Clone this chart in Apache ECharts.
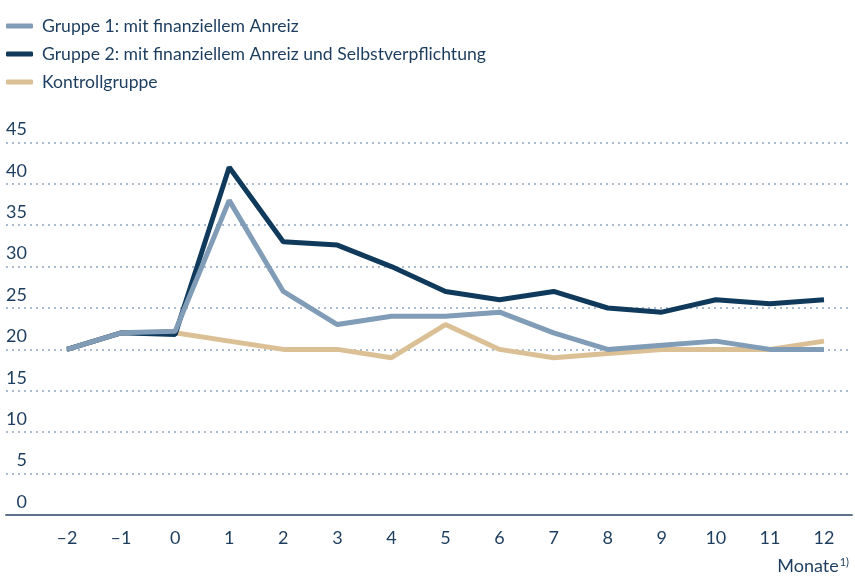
<!DOCTYPE html>
<html>
<head>
<meta charset="utf-8">
<script src="https://cdn.jsdelivr.net/npm/echarts@6/dist/echarts.min.js"></script>
<style>
  html, body { margin: 0; padding: 0; background: #fff; }
  #chart { width: 855px; height: 576px; }
</style>
</head>
<body>
<div id="chart"></div>
<script>
// Daten
var months = [-2, -1, 0, 1, 2, 3, 4, 5, 6, 7, 8, 9, 10, 11, 12];
var gruppe1 = [20, 22, 22.2, 38, 27, 23, 24, 24, 24.5, 22, 20, 20.5, 21, 20, 20];
var gruppe2 = [20, 22, 21.8, 42, 33, 32.6, 30, 27, 26, 27, 25, 24.5, 26, 25.5, 26];
var kontrolle = [20, 22, 22, 21, 20, 20, 19, 23, 20, 19, 19.5, 20, 20, 20, 21];
var seriesNames = ['Gruppe 1: mit finanziellem Anreiz',
                   'Gruppe 2: mit finanziellem Anreiz und Selbstverpflichtung',
                   'Kontrollgruppe'];

var textColor = '#1c3d5e';
var font = 'Lato';

function pairs(values) {
    return months.map(function (m, i) { return [m, values[i]]; });
}

var myChart = echarts.init(document.getElementById('chart'));

option = {
    animation: false,
    textStyle: { fontFamily: font },
    legend: {
        orient: 'vertical',
        left: 1,
        top: 10,
        itemGap: 6,
        itemWidth: 27,
        itemHeight: 5,
        icon: 'roundRect',
        data: seriesNames,
        textStyle: { color: textColor, fontSize: 17.6, fontFamily: font, lineHeight: 22, padding: [0, 0, 0, 4] }
    },
    grid: { left: 6, right: 3, top: 142.4, bottom: 61 },
    xAxis: {
        type: 'value',
        min: -3.128,
        max: 12.518,
        axisLine: { show: true, lineStyle: { color: '#5d7389', width: 2 } },
        axisTick: { show: false },
        splitLine: { show: false },
        axisLabel: {
            customValues: months,
            color: textColor,
            fontSize: 18,
            fontFamily: font,
            margin: 14,
            formatter: function (v) { return v < 0 ? '\u2013' + Math.abs(v) : String(v); }
        }
    },
    yAxis: {
        type: 'value',
        min: 0,
        max: 45,
        interval: 5,
        axisLine: { show: false },
        axisTick: { show: false },
        splitLine: { lineStyle: { color: '#8fa6bd', type: [2, 4], width: 1.5 } },
        axisLabel: {
            color: textColor,
            fontSize: 18,
            fontFamily: font,
            margin: -21,
            align: 'right',
            verticalAlign: 'bottom',
            lineHeight: 18,
            padding: [0, 0, 4, 0]
        }
    },
    graphic: [{
        type: 'text',
        right: 6,
        top: 557,
        style: {
            text: 'Monate{sup|1)}',
            fill: textColor,
            fontSize: 18,
            fontFamily: font,
            rich: { sup: { fontSize: 11, fontFamily: font, fill: textColor, verticalAlign: 'top', padding: [0, 0, 8, 1] } }
        }
    }],
    series: [
        {
            name: seriesNames[2], type: 'line', data: pairs(kontrolle), showSymbol: false, z: 2,
            itemStyle: { color: '#dbc096' }, lineStyle: { color: '#dbc096', width: 5 }
        },
        {
            name: seriesNames[1], type: 'line', data: pairs(gruppe2), showSymbol: false, z: 3,
            itemStyle: { color: '#0f3a5c' }, lineStyle: { color: '#0f3a5c', width: 5 }
        },
        {
            name: seriesNames[0], type: 'line', data: pairs(gruppe1), showSymbol: false, z: 4,
            itemStyle: { color: '#809cb6' }, lineStyle: { color: '#809cb6', width: 5 }
        }
    ]
};

myChart.setOption(option);
</script>
</body>
</html>
